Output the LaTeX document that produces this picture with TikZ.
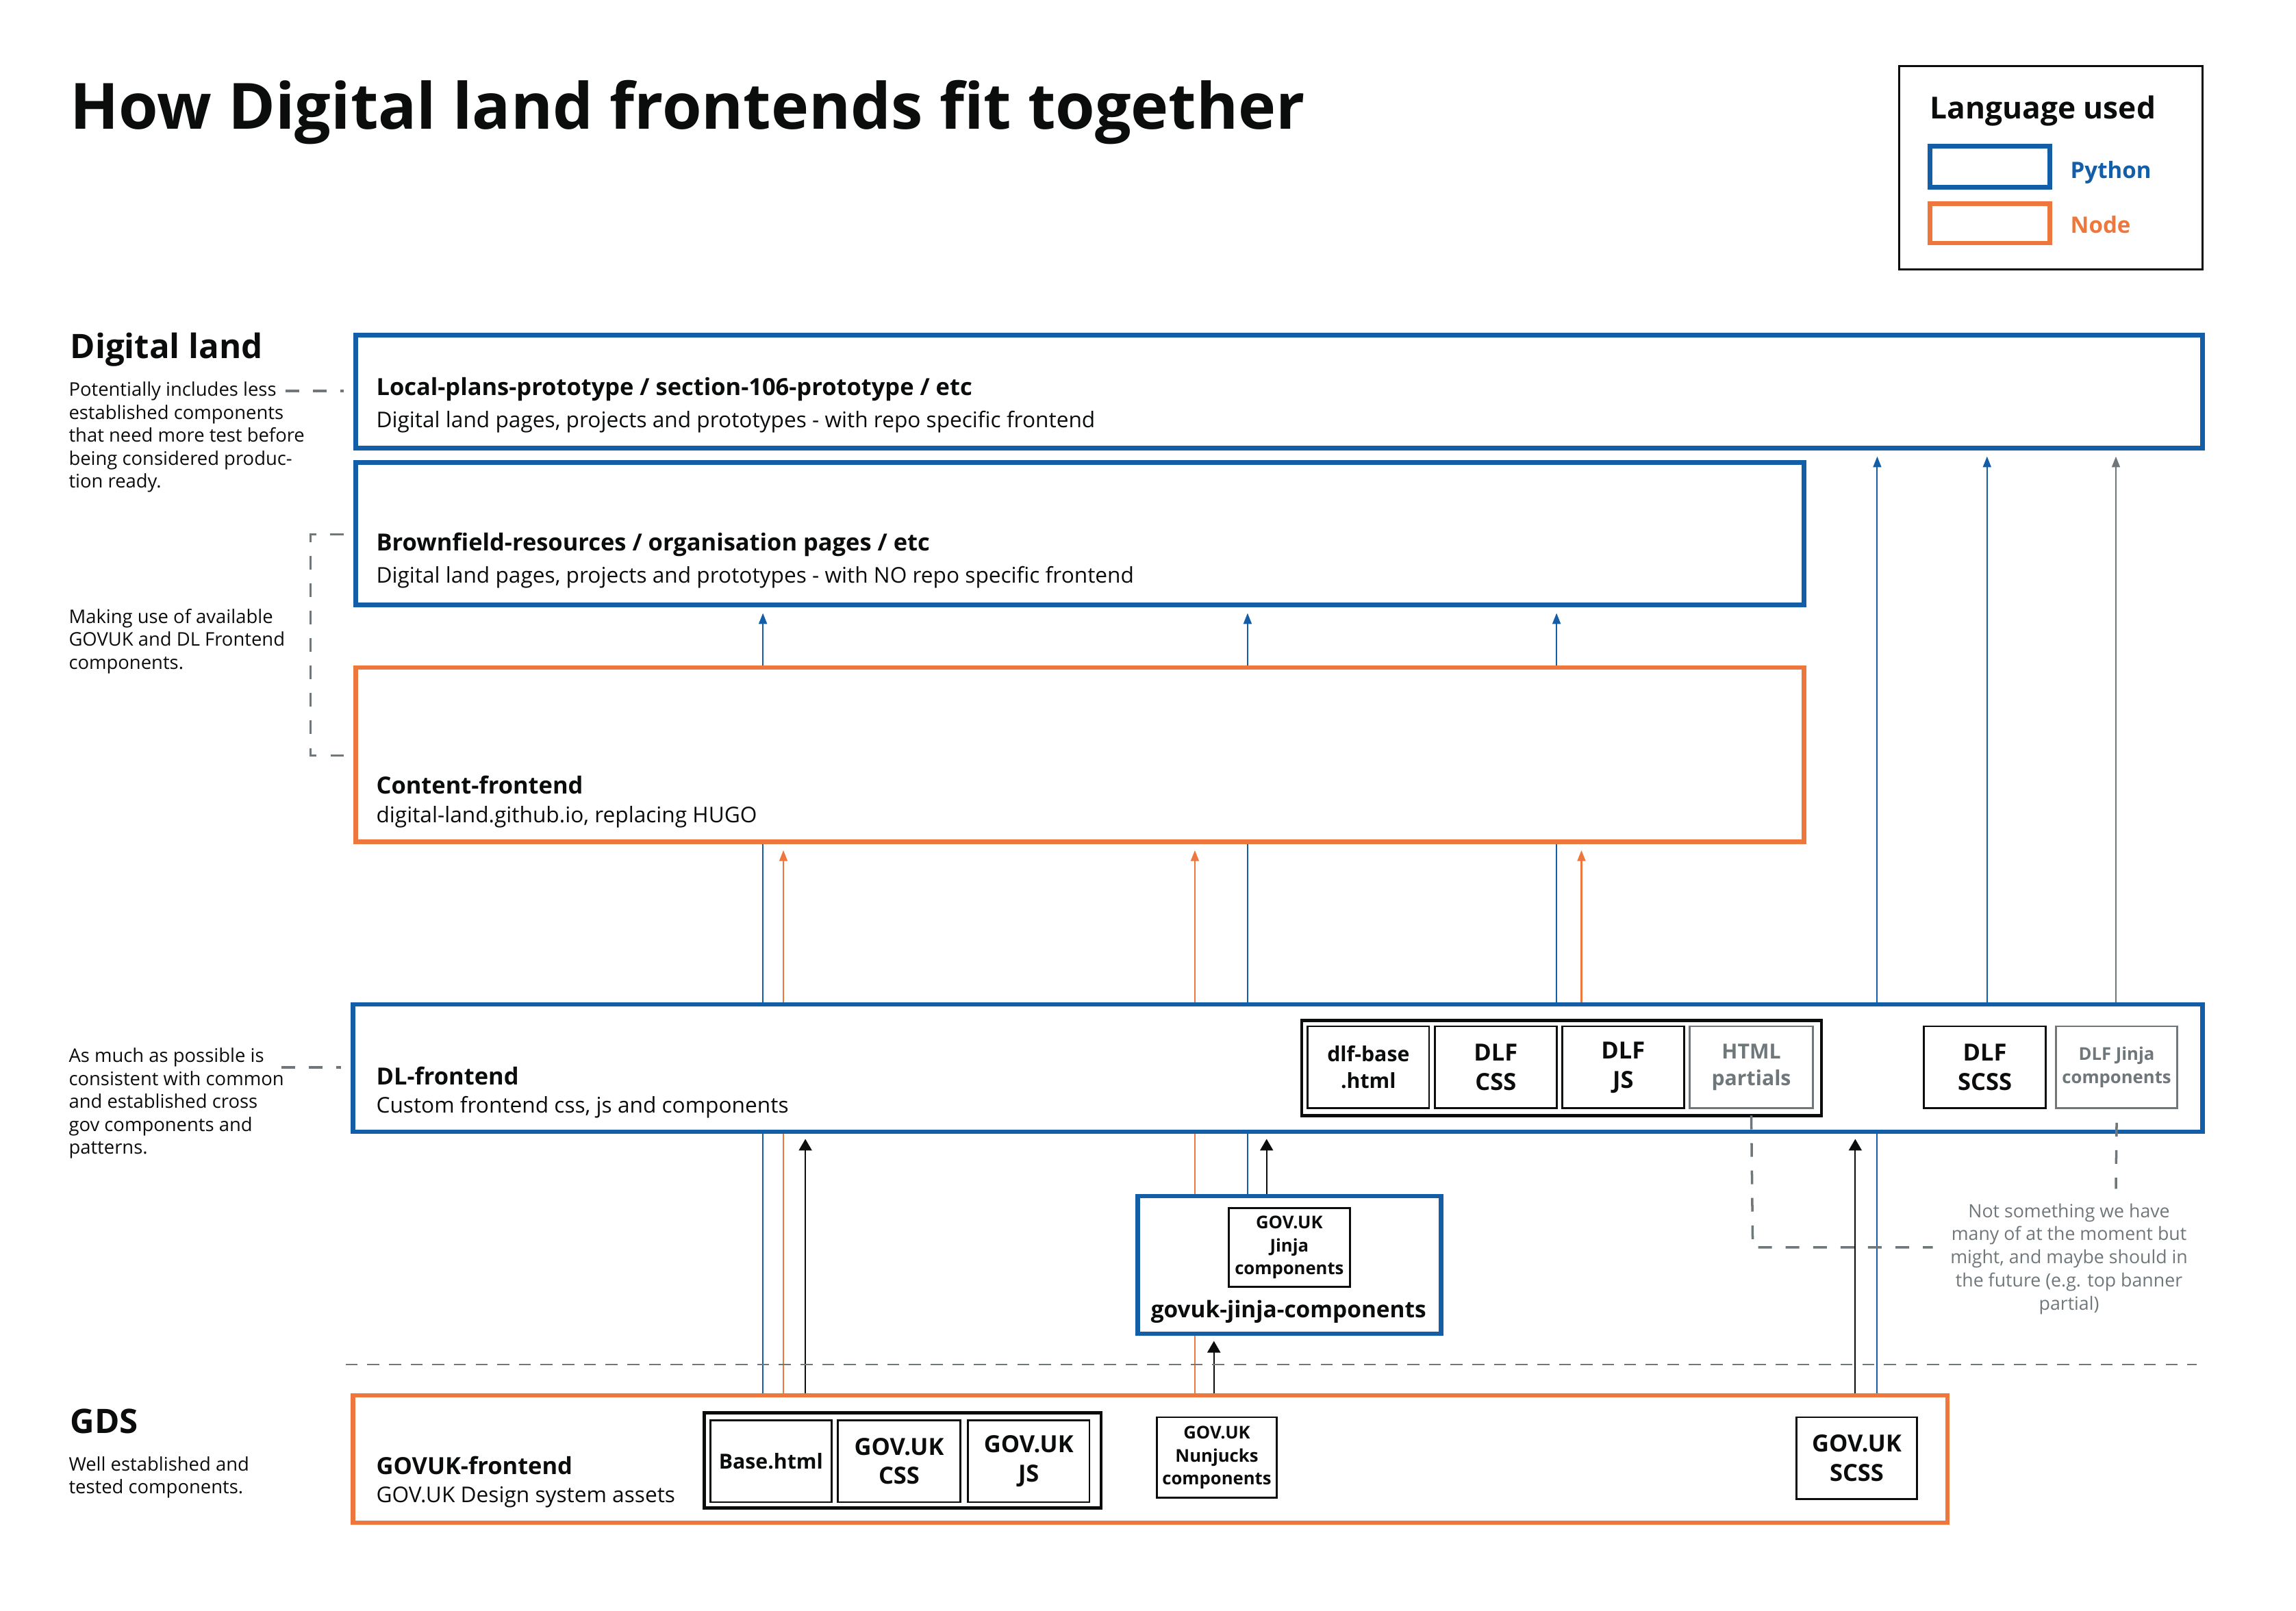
\documentclass[tikz,border=0pt]{standalone}
\usepackage{fontspec}
\setmainfont{Open Sans}
\usetikzlibrary{arrows.meta}
\definecolor{pyblue}{HTML}{135EA6}
\definecolor{ndorange}{HTML}{EE773D}
\definecolor{gtext}{HTML}{6F777B}
\definecolor{ink}{HTML}{0B0C0C}
\pgfdeclarelayer{bg}
\pgfsetlayers{bg,main}
\newcommand{\mkbox}[7]{\node[#1, anchor=north west, minimum width={(#5-#3)*0.021384cm}, minimum height={(#6-#4)*0.021384cm}] (#2) at (#3,#4) {#7};}
\newcommand{\fs}[2]{\fontsize{#1}{#2}\selectfont}
\begin{document}
\begin{tikzpicture}[x=0.021384cm, y=-0.021384cm,
  every node/.style={inner sep=0pt, outer sep=0pt, text=ink},
  pybox/.style={draw=pyblue, line width=1.9pt, fill=white},
  ndbox/.style={draw=ndorange, line width=1.9pt, fill=white},
  grpbox/.style={draw=ink, line width=1.3pt, fill=white},
  itembox/.style={draw=ink, line width=0.8pt, fill=white, align=center, font=\bfseries\fs{9.8}{12.2}},
  smallitem/.style={itembox, font=\bfseries\fs{8.6}{11}},
  tinyitem/.style={itembox, font=\bfseries\fs{7.3}{9.6}},
  grayitem/.style={draw=gtext, text=gtext},
  legbox/.style={draw=ink, line width=0.8pt, fill=white},
  titletext/.style={anchor=base west, font=\bfseries\fs{26.5}{30}},
  headtext/.style={anchor=base west, font=\bfseries\fs{14}{16}},
  boxtitle/.style={anchor=base west, font=\bfseries\fs{9.8}{12}},
  boxsub/.style={anchor=base west, font=\fs{9}{11}},
  notetext/.style={anchor=north west, align=left, font=\fs{7.8}{9.5}},
  pyarr/.style={draw=pyblue, line width=0.6pt, shorten >=3.5pt, -{Triangle[length=4.5pt,width=3.4pt]}},
  ndarr/.style={draw=ndorange, line width=0.6pt, shorten >=3.5pt, -{Triangle[length=4.5pt,width=3.4pt]}},
  grayarr/.style={draw=gtext, line width=0.6pt, shorten >=3.5pt, -{Triangle[length=4.5pt,width=3.4pt]}},
  inkarr/.style={draw=ink, line width=0.6pt, shorten >=3pt, -{Triangle[length=4.8pt,width=5.4pt]}},
  guide/.style={draw=gtext, line width=1pt, dash pattern=on 5.7pt off 5.7pt},
  divider/.style={draw=gtext, line width=0.6pt, dash pattern=on 5pt off 4pt}
]
\useasboundingbox (0,0) rectangle (1568,1100);

% title
\node[titletext] (title) at (48,88) {How Digital land frontends fit together};

% legend
\mkbox{legbox}{leg}{1297}{45}{1504}{184}{}
\node[anchor=base west, font=\bfseries\fs{12.6}{14}] (legtitle) at (1318,81) {Language used};
\mkbox{pybox}{legpy}{1318}{100}{1400}{128}{}
\mkbox{ndbox}{legnd}{1318}{139}{1400}{166}{}
\node[anchor=base west, font=\bfseries\fs{9.4}{11}, text=pyblue] (legpyt) at (1414,122) {Python};
\node[anchor=base west, font=\bfseries\fs{9.4}{11}, text=ndorange] (legndt) at (1414,159) {Node};

% section headings and notes
\node[headtext] (hdl) at (48,245) {Digital land};
\node[notetext] (n1) at (47,261) {Potentially includes less\\established components\\that need more test before\\being considered produc-\\tion ready.};
\node[notetext] (n2) at (47,416) {Making use of available\\GOVUK and DL Frontend\\components.};
\node[notetext] (n3) at (47,716) {As much as possible is\\consistent with common\\and established cross\\gov components and\\patterns.};
\node[headtext] (hgds) at (48,979) {GDS};
\node[notetext] (n4) at (47,995) {Well established and\\tested components.};

% main boxes
\mkbox{pybox}{lp}{243}{229}{1504}{306}{}
\node[boxtitle] (lpt) at (257,270) {Local-plans-prototype / section-106-prototype / etc};
\node[boxsub] (lps) at (257,292) {Digital land pages, projects and prototypes - with repo specific frontend};

\mkbox{pybox}{bf}{243}{316}{1232}{413}{}
\node[boxtitle] (bft) at (257,376) {Brownfield-resources / organisation pages / etc};
\node[boxsub] (bfs) at (257,398) {Digital land pages, projects and prototypes - with NO repo specific frontend};

\mkbox{ndbox}{cf}{243}{456}{1232}{575}{}
\node[boxtitle] (cft) at (257,542) {Content-frontend};
\node[boxsub] (cfs) at (257,562) {digital-land.github.io, replacing HUGO};

\mkbox{pybox}{dl}{241}{686}{1504}{773}{}
\node[boxtitle] (dlt) at (257,741) {DL-frontend};
\node[boxsub] (dls) at (257,760) {Custom frontend css, js and components};
\mkbox{grpbox}{dlgrp}{889}{697}{1244}{762}{}
\mkbox{smallitem}{dlb}{893}{701}{976}{757}{dlf-base\\.html}
\mkbox{itembox}{dlc}{980}{701}{1063}{757}{DLF\\CSS}
\mkbox{itembox}{dlj}{1067}{701}{1150}{757}{DLF\\JS}
\mkbox{smallitem,grayitem}{hp}{1154}{701}{1238}{757}{HTML\\partials}
\mkbox{itembox}{dls2}{1314}{701}{1397}{757}{DLF\\SCSS}
\mkbox{tinyitem,grayitem}{dj}{1404}{701}{1487}{757}{DLF Jinja\\components}

\mkbox{pybox}{gj}{777}{817}{984}{911}{}
\mkbox{tinyitem}{gji}{839}{825}{922}{879}{GOV.UK\\Jinja\\components}
\node[anchor=base, font=\bfseries\fs{9.5}{11}] (gjt) at (880,900) {govuk-jinja-components};

\node[anchor=north, align=center, font=\fs{7.6}{9.6}, text=gtext] (nsn) at (1413,822) {Not something we have\\many of at the moment but\\might, and maybe should in\\the future (e.g. top banner\\partial)};

\mkbox{ndbox}{gf}{241}{953}{1330}{1040}{}
\node[boxtitle] (gft) at (257,1007) {GOVUK-frontend};
\node[boxsub] (gfs) at (257,1026) {GOV.UK Design system assets};
\mkbox{grpbox}{gfgrp}{481}{965}{752}{1030}{}
\mkbox{smallitem}{gfb}{485}{970}{568}{1026}{Base.html}
\mkbox{itembox}{gfc}{572}{970}{656}{1026}{GOV.UK\\CSS}
\mkbox{itembox}{gfj}{661}{970}{744}{1026}{GOV.UK\\JS}
\mkbox{tinyitem}{gfn}{790}{968}{872}{1023}{GOV.UK\\Nunjucks\\components}
\mkbox{itembox}{gfs2}{1227}{968}{1309}{1024}{GOV.UK\\SCSS}

% column coordinates
\coordinate (c521) at (521,0);
\coordinate (c535) at (535,0);
\coordinate (c550) at (550,0);
\coordinate (c816) at (816,0);
\coordinate (c829) at (829,0);
\coordinate (c852) at (852,0);
\coordinate (c865) at (865,0);
\coordinate (c1063) at (1063,0);
\coordinate (c1080) at (1080,0);
\coordinate (c1267) at (1267,0);
\coordinate (c1282) at (1282,0);
\coordinate (c1357) at (1357,0);
\coordinate (c1445) at (1445,0);

\begin{pgfonlayer}{bg}
\draw[pyarr] (gf.north -| c521) -- (bf.south -| c521);
\draw[ndarr] (gf.north -| c535) -- (cf.south -| c535);
\draw[inkarr] (gf.north -| c550) -- (dl.south -| c550);
\draw[ndarr] (gf.north -| c816) -- (cf.south -| c816);
\draw[inkarr] (gf.north -| c829) -- (gj.south -| c829);
\draw[pyarr] (gj.north -| c852) -- (bf.south -| c852);
\draw[inkarr] (gj.north -| c865) -- (dl.south -| c865);
\draw[pyarr] (dl.north -| c1063) -- (bf.south -| c1063);
\draw[ndarr] (dl.north -| c1080) -- (cf.south -| c1080);
\draw[inkarr] (gf.north -| c1267) -- (dl.south -| c1267);
\draw[pyarr] (gf.north -| c1282) -- (lp.south -| c1282);
\draw[pyarr] (dl.north -| c1357) -- (lp.south -| c1357);
\draw[grayarr] (dl.north -| c1445) -- (lp.south -| c1445);
\end{pgfonlayer}

% guides
\coordinate (g1) at (195,267);
\draw[guide, shorten >=5pt] (g1) -- (g1 -| lp.west);
\coordinate (g2a) at (212,365);
\coordinate (g2b) at (212,516);
\draw[guide, shorten <=5pt, shorten >=5pt] (g2a -| bf.west) -- (g2a) -- (g2b) -- (g2b -| cf.west);
\coordinate (g3) at (192,729);
\draw[guide, shorten >=5pt] (g3) -- (g3 -| dl.west);
\coordinate (hpturn) at (1197,852);
\coordinate (hpend) at (1320,852);
\draw[guide] (dlgrp.south -| hp.south) -- (hpturn) -- (hpend);
\coordinate (djend) at (1445,812);
\draw[guide] ([yshift=-6pt]dj.south) -- (djend);
\draw[divider] (236,932) -- (1500,932);
\end{tikzpicture}
\end{document}
